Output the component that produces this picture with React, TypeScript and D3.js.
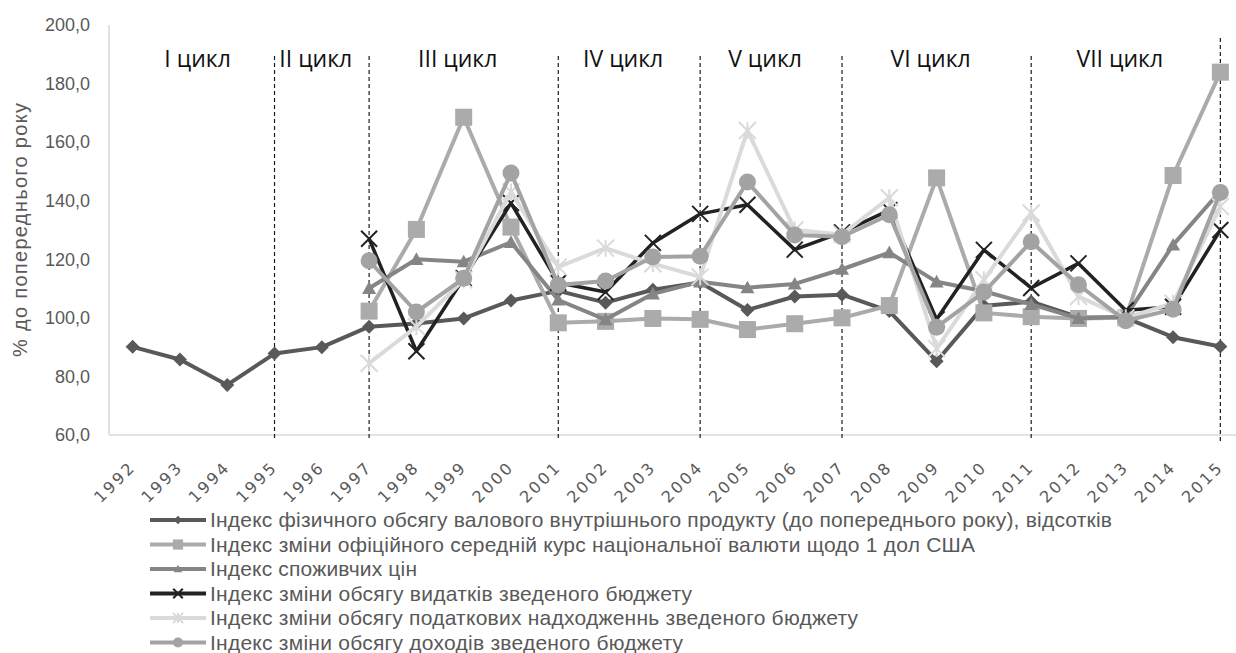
import * as d3 from 'd3';

const width = 1236;
const height = 653;

const years = [
  '1992', '1993', '1994', '1995', '1996', '1997', '1998', '1999', '2000', '2001', '2002', '2003',
  '2004', '2005', '2006', '2007', '2008', '2009', '2010', '2011', '2012', '2013', '2014', '2015',
];

// values, null where a series has no point
const gdpIndex = [
  90.1, 85.8, 77.1, 87.8, 90.0, 97.0, 98.1, 99.8, 105.9, 109.2, 105.2, 109.6,
  112.1, 102.7, 107.3, 107.9, 102.3, 85.2, 104.1, 105.5, 100.2, 100.0, 93.4, 90.2,
];
const usdRateIndex = [
  null, null, null, null, null, 102.3, 130.2, 168.5, 131.0, 98.3, 98.8, 99.8,
  99.5, 96.0, 98.0, 100.0, 104.2, 147.8, 101.7, 100.4, 99.8, 100.0, 148.6, 183.9,
];
const cpiIndex = [
  null, null, null, null, null, 110.1, 120.0, 119.2, 125.8, 106.1, 99.4, 108.2,
  112.3, 110.3, 111.6, 116.6, 122.3, 112.3, 109.1, 104.6, 99.8, 100.5, 124.9, 143.3,
];
const spendingIndex = [
  null, null, null, null, null, 127.0, 88.6, 113.5, 139.2, 112.0, 108.8, 125.6,
  135.5, 138.6, 123.3, 129.2, 136.8, 99.5, 123.2, 110.2, 118.6, 102.6, 103.8, 130.0,
];
const taxIndex = [
  null, null, null, null, null, 84.5, 97.0, 113.0, 143.0, 117.4, 123.8, 118.5,
  114.0, 164.0, 130.0, 128.5, 141.0, 89.5, 113.0, 135.8, 107.3, 100.0, 105.0, 138.0,
];
const revenueIndex = [
  null, null, null, null, null, 119.5, 102.0, 113.5, 149.5, 111.2, 112.6, 120.8,
  121.0, 146.4, 128.3, 127.7, 135.2, 96.8, 108.8, 126.0, 111.3, 99.0, 102.9, 142.8,
];

const seriesNames = [
  'Індекс фізичного обсягу валового внутрішнього продукту (до попереднього року), відсотків',
  'Індекс зміни офіційного середній курс національної валюти щодо 1 дол США',
  'Індекс споживчих цін',
  'Індекс зміни обсягу видатків зведеного бюджету',
  'Індекс зміни обсягу податкових надходженнь зведеного бюджету',
  'Індекс зміни обсягу доходів зведеного бюджету',
];

const yTicks = [60, 80, 100, 120, 140, 160, 180, 200];

const cycleLabels = ['I цикл', 'II цикл', 'III цикл', 'IV цикл', 'V цикл', 'VI цикл', 'VII цикл'];
const cycleBounds = ['1992', '1995', '1997', '2001', '2004', '2007', '2011', '2015'];
const dividerYears = ['1995', '1997', '2001', '2004', '2007', '2011', '2015'];

const series = [
  { name: seriesNames[0], values: gdpIndex, color: '#595959', marker: 'diamond', width: 4 },
  { name: seriesNames[1], values: usdRateIndex, color: '#ababab', marker: 'square', width: 4 },
  { name: seriesNames[2], values: cpiIndex, color: '#858585', marker: 'triangle', width: 4 },
  { name: seriesNames[3], values: spendingIndex, color: '#222222', marker: 'x', width: 3.5 },
  { name: seriesNames[4], values: taxIndex, color: '#dadada', marker: 'star', width: 4 },
  { name: seriesNames[5], values: revenueIndex, color: '#a3a3a3', marker: 'circle', width: 4 },
];

// widths the legend labels take in the original
const legendWidths = [902, 765, 207, 482, 648, 473];

const x = d3.scalePoint<string>().domain(years).range([109, 1244]).padding(0.5);
const y = d3.scaleLinear().domain([60, 200]).range([435, 25]);

const line = d3
  .line<number | null>()
  .defined((d) => d != null)
  .x((_, i) => x(years[i]) as number)
  .y((d) => y(d as number));

function Marker({ type, color, s }: { type: string; color: string; s: number }) {
  // s = half size of the marker
  if (type === 'diamond') {
    return <path d={`M0,${-s}L${s},0L0,${s}L${-s},0Z`} fill={color} />;
  }
  if (type === 'square') {
    return <rect x={-s} y={-s} width={2 * s} height={2 * s} fill={color} />;
  }
  if (type === 'triangle') {
    return <path d={`M0,${-s}L${s},${s * 0.8}L${-s},${s * 0.8}Z`} fill={color} />;
  }
  if (type === 'circle') {
    return <circle r={s} fill={color} />;
  }
  if (type === 'x') {
    return (
      <path d={`M${-s},${-s}L${s},${s}M${-s},${s}L${s},${-s}`} stroke={color} strokeWidth={2} fill="none" />
    );
  }
  // star: x with a vertical bar
  return (
    <path
      d={`M${-s},${-s}L${s},${s}M${-s},${s}L${s},${-s}M0,${-s}L0,${s}`}
      stroke={color}
      strokeWidth={2}
      fill="none"
    />
  );
}

const markerSize: Record<string, number> = {
  diamond: 7,
  square: 8.5,
  triangle: 7,
  x: 8,
  star: 8.5,
  circle: 8.5,
};

const fmt = (v: number) => v.toFixed(1).replace('.', ',');

export default function App() {
  const gray = '#595959';
  const legendTop = 520;
  const legendStep = 24.5;

  return (
    <div style={{ position: 'absolute', left: 0, top: 0 }}>
      <svg width={width} height={height} style={{ display: 'block', background: '#fff' }}>
        <rect width={width} height={height} fill="#fff" />

        {/* axes */}
        <line x1={109} x2={109} y1={y(200)} y2={y(60)} stroke="#d9d9d9" strokeWidth={1.5} />
        <line x1={109} x2={width} y1={y(60)} y2={y(60)} stroke="#d9d9d9" strokeWidth={1.5} />

        {/* y ticks */}
        {yTicks.map((t) => (
          <text
            key={t}
            x={90}
            y={y(t)}
            dy="0.35em"
            textAnchor="end"
            fontFamily="Liberation Sans, Arial, sans-serif"
            fontSize={18}
            fill={gray}
          >
            {fmt(t)}
          </text>
        ))}

        {/* y title */}
        <text
          transform={`translate(27,230) rotate(-90)`}
          textAnchor="middle"
          fontFamily="Liberation Sans, Arial, sans-serif"
          fontSize={20}
          textLength={254}
          lengthAdjust="spacing"
          fill={gray}
        >
          % до попереднього року
        </text>

        {/* x tick labels */}
        {years.map((yr) => (
          <text
            key={yr}
            transform={`translate(${(x(yr) as number) + 4},468) rotate(-45)`}
            textAnchor="end"
            fontFamily="DejaVu Sans, sans-serif"
            fontSize={16}
            letterSpacing={2.5}
            fill={gray}
          >
            {yr}
          </text>
        ))}

        {/* cycle dividers */}
        {dividerYears.map((yr, i) => (
          <line
            key={yr}
            x1={x(yr) as number}
            x2={x(yr) as number}
            y1={i === dividerYears.length - 1 ? 38 : 56}
            y2={441}
            stroke="#1a1a1a"
            strokeWidth={1.2}
            strokeDasharray="4,3"
          />
        ))}

        {/* cycle labels */}
        {cycleLabels.map((lab, i) => {
          const cx = ((x(cycleBounds[i]) as number) + (x(cycleBounds[i + 1]) as number)) / 2;
          return (
            <text
              key={lab}
              x={cx - 6}
              y={67}
              textAnchor="middle"
              fontFamily="Open Sans, sans-serif"
              fontSize={23}
              fill="#111"
            >
              {lab}
            </text>
          );
        })}

        {/* series */}
        {series.map((s) => (
          <g key={s.name}>
            <path d={line(s.values) || ''} fill="none" stroke={s.color} strokeWidth={s.width} strokeLinejoin="round" />
            {s.values.map((v, i) =>
              v == null ? null : (
                <g key={i} transform={`translate(${x(years[i])},${y(v)})`}>
                  <Marker type={s.marker} color={s.color} s={markerSize[s.marker]} />
                </g>
              )
            )}
          </g>
        ))}

        {/* legend */}
        {series.map((s, i) => {
          const ly = legendTop + i * legendStep;
          return (
            <g key={s.name} transform={`translate(0,${ly})`}>
              <line x1={150} x2={206} y1={0} y2={0} stroke={s.color} strokeWidth={4} />
              <g transform="translate(178,0)">
                <Marker type={s.marker} color={s.color} s={markerSize[s.marker] * 0.6} />
              </g>
              <text
                x={210}
                y={0}
                dy="0.35em"
                fontFamily="Liberation Sans, Arial, sans-serif"
                fontSize={21}
                textLength={legendWidths[i]}
                lengthAdjust="spacing"
                fill={gray}
              >
                {s.name}
              </text>
            </g>
          );
        })}
      </svg>
    </div>
  );
}
